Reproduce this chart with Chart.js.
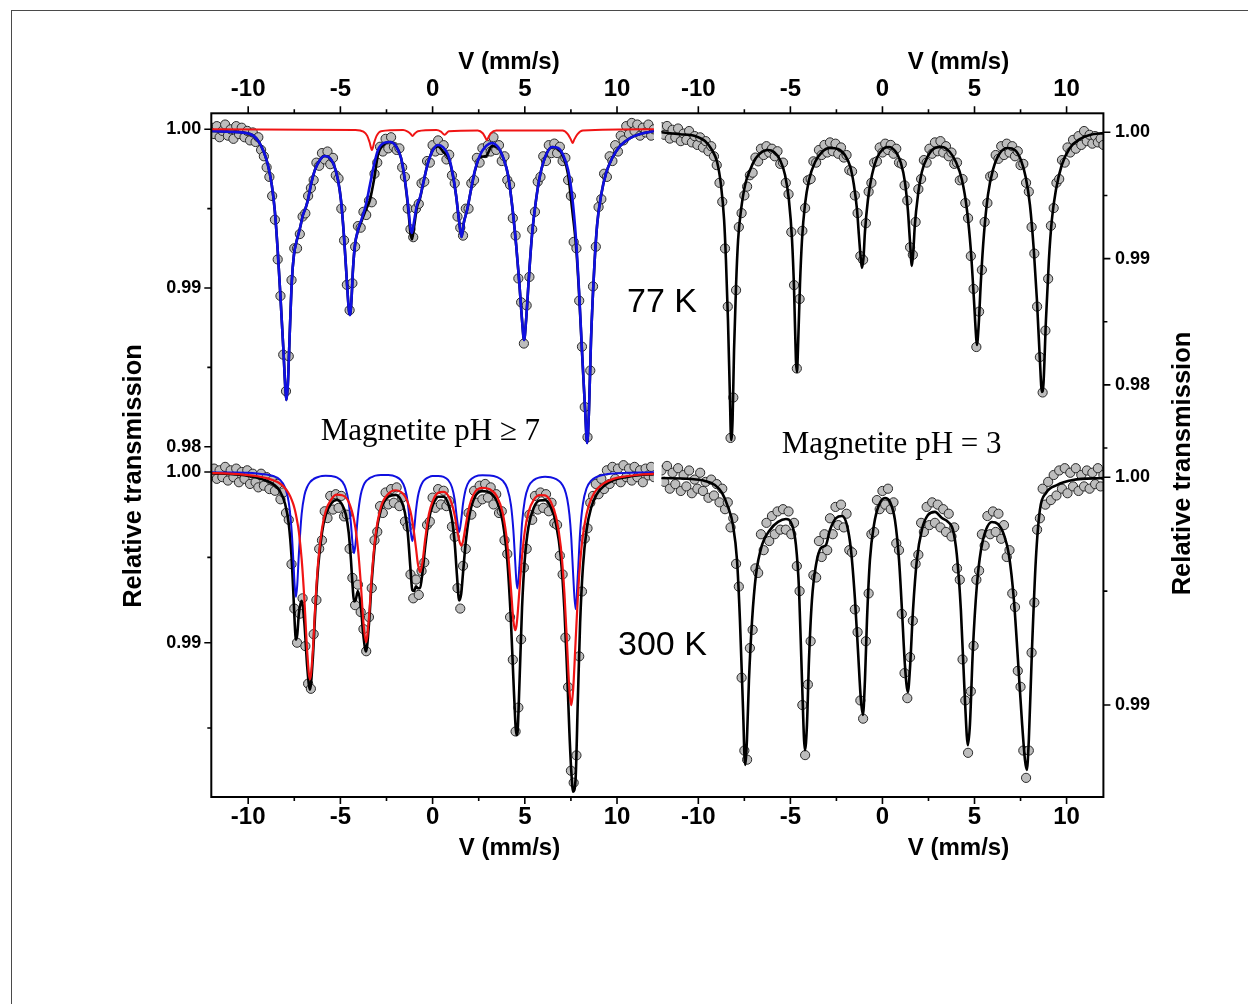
<!DOCTYPE html>
<html>
<head>
<meta charset="utf-8">
<script src="https://cdn.jsdelivr.net/npm/chart.js@4.4.1/dist/chart.umd.min.js"></script>
<style>
  html, body { margin: 0; padding: 0; background: #fff; }
  body { width: 1248px; height: 1004px; position: relative; overflow: hidden; }
  #sheet { position: absolute; left: 11px; top: 10px; width: 1300px; height: 1100px; border: 1.5px solid #4a4a4a; box-sizing: border-box; }
  canvas { position: absolute; left: 0; top: 0; }
</style>
</head>
<body>
<div id="sheet"></div>
<canvas id="tl" width="1248" height="1004"></canvas>
<canvas id="tr" width="1248" height="1004"></canvas>
<canvas id="bl" width="1248" height="1004"></canvas>
<canvas id="br" width="1248" height="1004"></canvas>
<script>
// velocity channels (mm/s), shared by all four spectra
const velocity = [
  -12, -11.85, -11.7, -11.55, -11.4, -11.25, -11.1, -10.95, -10.8, -10.65,
  -10.5, -10.35, -10.2, -10.05, -9.9, -9.75, -9.6, -9.45, -9.3, -9.15,
  -9, -8.85, -8.7, -8.55, -8.4, -8.25, -8.1, -7.95, -7.8, -7.65,
  -7.5, -7.35, -7.2, -7.05, -6.9, -6.75, -6.6, -6.45, -6.3, -6.15,
  -6, -5.85, -5.7, -5.55, -5.4, -5.25, -5.1, -4.95, -4.8, -4.65,
  -4.5, -4.35, -4.2, -4.05, -3.9, -3.75, -3.6, -3.45, -3.3, -3.15,
  -3, -2.85, -2.7, -2.55, -2.4, -2.25, -2.1, -1.95, -1.8, -1.65,
  -1.5, -1.35, -1.2, -1.05, -0.9, -0.75, -0.6, -0.45, -0.3, -0.15,
  0, 0.15, 0.3, 0.45, 0.6, 0.75, 0.9, 1.05, 1.2, 1.35,
  1.5, 1.65, 1.8, 1.95, 2.1, 2.25, 2.4, 2.55, 2.7, 2.85,
  3, 3.15, 3.3, 3.45, 3.6, 3.75, 3.9, 4.05, 4.2, 4.35,
  4.5, 4.65, 4.8, 4.95, 5.1, 5.25, 5.4, 5.55, 5.7, 5.85,
  6, 6.15, 6.3, 6.45, 6.6, 6.75, 6.9, 7.05, 7.2, 7.35,
  7.5, 7.65, 7.8, 7.95, 8.1, 8.25, 8.4, 8.55, 8.7, 8.85,
  9, 9.15, 9.3, 9.45, 9.6, 9.75, 9.9, 10.05, 10.2, 10.35,
  10.5, 10.65, 10.8, 10.95, 11.1, 11.25, 11.4, 11.55, 11.7, 11.85,
  12
];

// measured relative transmission
const trans77pH7 = [
  1.0001, 0.9997, 1.0002, 0.9995, 0.9999, 1.0003, 0.9996, 1.0000, 0.9994, 1.0002,
  0.9997, 1.0001, 0.9995, 0.9999, 0.9993, 0.9998, 0.9992, 0.9995, 0.9987, 0.9983,
  0.9976, 0.9970, 0.9958, 0.9943, 0.9918, 0.9895, 0.9858, 0.9835, 0.9857, 0.9905,
  0.9925, 0.9925, 0.9934, 0.9945, 0.9947, 0.9958, 0.9963, 0.9968, 0.9979, 0.9977,
  0.9985, 0.9981, 0.9986, 0.9978, 0.9982, 0.9971, 0.9969, 0.9950, 0.9930, 0.9902,
  0.9886, 0.9903, 0.9926, 0.9939, 0.9938, 0.9948, 0.9946, 0.9955, 0.9954, 0.9972,
  0.9979, 0.9989, 0.9986, 0.9994, 0.9988, 0.9995, 0.9989, 0.9987, 0.9988, 0.9976,
  0.9970, 0.9950, 0.9937, 0.9932, 0.9950, 0.9953, 0.9966, 0.9967, 0.9980, 0.9979,
  0.9990, 0.9986, 0.9993, 0.9987, 0.9990, 0.9981, 0.9984, 0.9971, 0.9966, 0.9945,
  0.9938, 0.9933, 0.9950, 0.9950, 0.9966, 0.9968, 0.9982, 0.9979, 0.9988, 0.9985,
  0.9990, 0.9986, 0.9995, 0.9987, 0.9990, 0.9980, 0.9983, 0.9968, 0.9965, 0.9944,
  0.9933, 0.9906, 0.9891, 0.9865, 0.9889, 0.9907, 0.9937, 0.9948, 0.9967, 0.9970,
  0.9983, 0.9980, 0.9990, 0.9985, 0.9991, 0.9985, 0.9989, 0.9980, 0.9982, 0.9968,
  0.9958, 0.9929, 0.9925, 0.9892, 0.9863, 0.9825, 0.9806, 0.9848, 0.9901, 0.9926,
  0.9951, 0.9956, 0.9972, 0.9970, 0.9983, 0.9980, 0.9990, 0.9986, 0.9996, 0.9993,
  1.0002, 0.9997, 1.0004, 0.9999, 1.0003, 0.9996, 1.0001, 0.9998, 1.0003, 0.9996,
  1.0000
];
const trans77pH3 = [
  1.0004, 0.9998, 1.0005, 0.9995, 1.0002, 0.9996, 1.0003, 0.9993, 0.9999, 0.9994,
  1.0001, 0.9992, 0.9997, 0.9990, 0.9996, 0.9988, 0.9993, 0.9985, 0.9989, 0.9981,
  0.9974, 0.9960, 0.9945, 0.9908, 0.9862, 0.9758, 0.9790, 0.9875, 0.9925, 0.9936,
  0.9950, 0.9957, 0.9966, 0.9968, 0.9980, 0.9977, 0.9987, 0.9982, 0.9989, 0.9984,
  0.9987, 0.9981, 0.9985, 0.9975, 0.9976, 0.9960, 0.9951, 0.9921, 0.9879, 0.9813,
  0.9868, 0.9922, 0.9940, 0.9962, 0.9963, 0.9977, 0.9976, 0.9986, 0.9982, 0.9990,
  0.9984, 0.9992, 0.9985, 0.9991, 0.9983, 0.9988, 0.9980, 0.9982, 0.9970, 0.9969,
  0.9950, 0.9936, 0.9902, 0.9899, 0.9928, 0.9953, 0.9960, 0.9976, 0.9977, 0.9988,
  0.9984, 0.9991, 0.9986, 0.9990, 0.9983, 0.9987, 0.9976, 0.9975, 0.9958, 0.9946,
  0.9909, 0.9903, 0.9929, 0.9955, 0.9963, 0.9978, 0.9976, 0.9987, 0.9983, 0.9992,
  0.9985, 0.9993, 0.9984, 0.9989, 0.9981, 0.9984, 0.9975, 0.9976, 0.9962, 0.9963,
  0.9944, 0.9932, 0.9902, 0.9876, 0.9830, 0.9858, 0.9891, 0.9929, 0.9944, 0.9965,
  0.9966, 0.9982, 0.9979, 0.9989, 0.9982, 0.9991, 0.9984, 0.9989, 0.9981, 0.9985,
  0.9974, 0.9975, 0.9960, 0.9953, 0.9925, 0.9904, 0.9862, 0.9822, 0.9794, 0.9843,
  0.9884, 0.9926, 0.9940, 0.9960, 0.9963, 0.9978, 0.9976, 0.9988, 0.9984, 0.9994,
  0.9987, 0.9997, 0.9990, 1.0001, 0.9993, 0.9998, 0.9991, 0.9997, 0.9992, 0.9995,
  0.9990
];
const trans300pH7 = [
  0.9998, 1.0002, 0.9996, 1.0001, 0.9997, 1.0003, 0.9995, 1.0001, 0.9997, 1.0002,
  0.9994, 1.0000, 0.9996, 1.0001, 0.9993, 0.9999, 0.9994, 0.9991, 0.9999, 0.9992,
  0.9997, 0.9990, 0.9995, 0.9989, 0.9993, 0.9984, 0.9988, 0.9976, 0.9972, 0.9946,
  0.9920, 0.9900, 0.9917, 0.9926, 0.9898, 0.9876, 0.9873, 0.9905, 0.9925, 0.9955,
  0.9960, 0.9977, 0.9973, 0.9986, 0.9978, 0.9987, 0.9979, 0.9986, 0.9974, 0.9975,
  0.9955, 0.9938, 0.9922, 0.9934, 0.9918, 0.9908, 0.9895, 0.9915, 0.9932, 0.9960,
  0.9965, 0.9980, 0.9976, 0.9988, 0.9981, 0.9990, 0.9982, 0.9991, 0.9980, 0.9985,
  0.9971, 0.9968, 0.9940, 0.9926, 0.9937, 0.9928, 0.9942, 0.9947, 0.9969, 0.9971,
  0.9985, 0.9979, 0.9990, 0.9981, 0.9989, 0.9980, 0.9983, 0.9968, 0.9962, 0.9932,
  0.9920, 0.9945, 0.9955, 0.9976, 0.9975, 0.9989, 0.9982, 0.9992, 0.9984, 0.9993,
  0.9985, 0.9991, 0.9981, 0.9987, 0.9976, 0.9977, 0.9960, 0.9952, 0.9915, 0.9890,
  0.9848, 0.9862, 0.9902, 0.9944, 0.9955, 0.9975, 0.9972, 0.9986, 0.9978, 0.9988,
  0.9979, 0.9987, 0.9977, 0.9982, 0.9970, 0.9969, 0.9951, 0.9940, 0.9903, 0.9874,
  0.9825, 0.9818, 0.9834, 0.9892, 0.9930, 0.9961, 0.9967, 0.9982, 0.9986, 0.9993,
  0.9987, 0.9996, 0.9990, 1.0001, 0.9993, 1.0003, 0.9996, 1.0002, 0.9994, 1.0004,
  0.9997, 1.0002, 0.9995, 1.0003, 0.9997, 1.0001, 0.9994, 1.0002, 0.9998, 1.0003,
  0.9997
];
const trans300pH3 = [
  1.0003, 0.9998, 1.0005, 0.9995, 1.0002, 0.9997, 1.0004, 0.9994, 1.0001, 0.9996,
  1.0003, 0.9993, 0.9999, 0.9995, 1.0002, 0.9994, 0.9998, 0.9991, 0.9999, 0.9992,
  0.9997, 0.9989, 0.9995, 0.9986, 0.9989, 0.9978, 0.9982, 0.9962, 0.9952, 0.9912,
  0.9880, 0.9876, 0.9925, 0.9933, 0.9960, 0.9958, 0.9975, 0.9968, 0.9980, 0.9972,
  0.9983, 0.9975, 0.9985, 0.9977, 0.9986, 0.9977, 0.9985, 0.9975, 0.9980, 0.9961,
  0.9950, 0.9900, 0.9878, 0.9909, 0.9928, 0.9957, 0.9956, 0.9972, 0.9965, 0.9975,
  0.9968, 0.9982, 0.9975, 0.9987, 0.9979, 0.9988, 0.9978, 0.9984, 0.9968, 0.9967,
  0.9942, 0.9932, 0.9902, 0.9894, 0.9928, 0.9949, 0.9975, 0.9976, 0.9990, 0.9986,
  0.9994, 0.9988, 0.9995, 0.9986, 0.9989, 0.9971, 0.9968, 0.9940, 0.9914, 0.9903,
  0.9921, 0.9937, 0.9962, 0.9966, 0.9980, 0.9976, 0.9987, 0.9979, 0.9989, 0.9980,
  0.9988, 0.9978, 0.9986, 0.9976, 0.9984, 0.9974, 0.9978, 0.9960, 0.9955, 0.9920,
  0.9902, 0.9879, 0.9906, 0.9926, 0.9955, 0.9959, 0.9975, 0.9970, 0.9983, 0.9975,
  0.9985, 0.9976, 0.9984, 0.9973, 0.9979, 0.9965, 0.9968, 0.9949, 0.9943, 0.9915,
  0.9908, 0.9880, 0.9868, 0.9880, 0.9923, 0.9945, 0.9977, 0.9982, 0.9995, 0.9988,
  0.9998, 0.9990, 1.0001, 0.9992, 1.0003, 0.9995, 1.0004, 0.9993, 1.0002, 0.9996,
  1.0004, 0.9994, 1.0001, 0.9996, 1.0003, 0.9995, 1.0002, 0.9997, 1.0004, 0.9996,
  1.0001
];

// fitted curves, 77 K, pH >= 7
const fitV77pH7 = [
  -12, -11, -9.9, -9.47, -9.15, -8.93, -8.72, -8.56, -8.4, -8.24, -8.09, -7.98, -7.93, -7.85,
  -7.74, -7.63, -7.52, -7.36, -7.19, -7.03, -6.87, -6.76, -6.6, -6.38, -6.11, -5.84, -5.57,
  -5.35, -5.13, -4.97, -4.81, -4.67, -4.54, -4.48, -4.4, -4.32, -4.21, -4.05, -3.83, -3.62,
  -3.4, -3.18, -2.96, -2.64, -2.31, -1.99, -1.71, -1.5, -1.33, -1.2, -1.12, -1.01, -0.85,
  -0.68, -0.47, -0.25, 0.02, 0.29, 0.56, 0.84, 1.05, 1.27, 1.43, 1.57, 1.7, 1.87, 2.08, 2.3,
  2.57, 2.9, 3.22, 3.55, 3.87, 4.09, 4.31, 4.53, 4.69, 4.85, 4.96, 5.07, 5.23, 5.39, 5.61,
  5.83, 6.15, 6.48, 6.8, 7.08, 7.35, 7.56, 7.78, 7.94, 8.1, 8.27, 8.38, 8.48, 8.59, 8.76,
  8.92, 9.14, 9.41, 9.74, 10.17, 10.71, 11.25, 12
];
const fitBlue77pH7 = [
  0.99990, 0.99985, 0.99970, 0.99930, 0.99857, 0.99775, 0.99649, 0.99491, 0.99239, 0.98924,
  0.98609, 0.98357, 0.98294, 0.98389, 0.98735, 0.99050, 0.99208, 0.99302, 0.99378, 0.99460,
  0.99510, 0.99555, 0.99649, 0.99744, 0.99807, 0.99832, 0.99819, 0.99775, 0.99681, 0.99555,
  0.99334, 0.99082, 0.98861, 0.98830, 0.98924, 0.99113, 0.99271, 0.99365, 0.99441, 0.99523,
  0.99649, 0.99775, 0.99870, 0.99914, 0.99920, 0.99895, 0.99819, 0.99681, 0.99523, 0.99378,
  0.99347, 0.99416, 0.99523, 0.99573, 0.99681, 0.99788, 0.99870, 0.99901, 0.99888, 0.99838,
  0.99744, 0.99586, 0.99428, 0.99321, 0.99416, 0.99491, 0.99618, 0.99744, 0.99838, 0.99895,
  0.99914, 0.99888, 0.99807, 0.99712, 0.99523, 0.99271, 0.99050, 0.98798, 0.98672, 0.98798,
  0.99082, 0.99334, 0.99555, 0.99712, 0.99838, 0.99888, 0.99882, 0.99838, 0.99744, 0.99586,
  0.99302, 0.98987, 0.98609, 0.98231, 0.98023, 0.98231, 0.98672, 0.99113, 0.99397, 0.99586,
  0.99725, 0.99819, 0.99895, 0.99945, 0.99970, 0.99989
];
const fitTotal77pH7 = [
  0.99990, 0.99985, 0.99970, 0.99930, 0.99857, 0.99775, 0.99649, 0.99491, 0.99239, 0.98924,
  0.98609, 0.98357, 0.98294, 0.98389, 0.98735, 0.99050, 0.99208, 0.99302, 0.99378, 0.99460,
  0.99510, 0.99555, 0.99649, 0.99744, 0.99807, 0.99832, 0.99819, 0.99775, 0.99681, 0.99555,
  0.99334, 0.99082, 0.98861, 0.98830, 0.98924, 0.99113, 0.99271, 0.99358, 0.99428, 0.99493,
  0.99554, 0.99680, 0.99840, 0.99905, 0.99920, 0.99895, 0.99819, 0.99674, 0.99508, 0.99347,
  0.99306, 0.99381, 0.99508, 0.99566, 0.99681, 0.99788, 0.99870, 0.99894, 0.99860, 0.99822,
  0.99738, 0.99586, 0.99428, 0.99321, 0.99416, 0.99491, 0.99618, 0.99739, 0.99825, 0.99831,
  0.99895, 0.99883, 0.99807, 0.99712, 0.99523, 0.99271, 0.99050, 0.98798, 0.98672, 0.98798,
  0.99082, 0.99334, 0.99555, 0.99712, 0.99838, 0.99888, 0.99878, 0.99828, 0.99713, 0.99503,
  0.99262, 0.98969, 0.98600, 0.98231, 0.98023, 0.98231, 0.98672, 0.99113, 0.99397, 0.99586,
  0.99725, 0.99819, 0.99895, 0.99945, 0.99970, 0.99989
];
const fitRedV77pH7 = [
  -12, -4.2, -3.75, -3.55, -3.42, -3.29, -3.16, -3.03, -2.8, -1.6, -1.35, -1.2, -1.09, -0.98,
  -0.8, 0.2, 0.45, 0.57, 0.65, 0.73, 0.88, 2.45, 2.72, 2.85, 2.94, 3.03, 3.16, 3.45, 7.05,
  7.33, 7.5, 7.59, 7.68, 7.86, 8.15, 12
];
const fitRed77pH7 = [
  1.0000, 0.99996, 0.99985, 0.99960, 0.99920, 0.99870, 0.99920, 0.99960, 0.99988, 0.99995,
  0.99985, 0.99972, 0.99958, 0.99972, 0.99988, 0.99995, 0.99985, 0.99972, 0.99965, 0.99972,
  0.99988, 0.99993, 0.99975, 0.99950, 0.99933, 0.99950, 0.99975, 0.99992, 0.99993, 0.99970,
  0.99935, 0.99914, 0.99935, 0.99970, 0.99993, 1.0000
];

// fitted curve, 77 K, pH = 3
const fitV77pH3 = [
  -12, -11, -10.18, -9.64, -9.26, -8.98, -8.77, -8.6, -8.5, -8.39, -8.28, -8.22, -8.14, -8.06,
  -7.95, -7.84, -7.68, -7.46, -7.19, -6.87, -6.54, -6.22, -5.89, -5.56, -5.29, -5.08, -4.91,
  -4.8, -4.7, -4.64, -4.59, -4.48, -4.37, -4.21, -3.99, -3.66, -3.28, -2.85, -2.42, -2.04,
  -1.76, -1.55, -1.38, -1.28, -1.17, -1.11, -1.03, -0.95, -0.79, -0.57, -0.3, 0.03, 0.35,
  0.73, 1, 1.22, 1.38, 1.49, 1.6, 1.68, 1.76, 1.93, 2.14, 2.47, 2.85, 3.23, 3.66, 3.99, 4.32,
  4.59, 4.8, 4.97, 5.08, 5.13, 5.21, 5.35, 5.51, 5.73, 6, 6.38, 6.81, 7.19, 7.52, 7.79, 8.01,
  8.22, 8.39, 8.55, 8.66, 8.74, 8.88, 9.04, 9.2, 9.42, 9.74, 10.18, 10.72, 11.26, 12
];
const fitTotal77pH3 = [
  1.00000, 0.99985, 0.99971, 0.99931, 0.99860, 0.99765, 0.99583, 0.99306, 0.98989, 0.98514,
  0.97880, 0.97564, 0.97722, 0.98277, 0.98791, 0.99147, 0.99385, 0.99583, 0.99702, 0.99796,
  0.99844, 0.99860, 0.99844, 0.99781, 0.99662, 0.99464, 0.99147, 0.98752, 0.98198, 0.98102,
  0.98277, 0.98791, 0.99147, 0.99425, 0.99622, 0.99765, 0.99844, 0.99876, 0.99868, 0.99820,
  0.99733, 0.99583, 0.99385, 0.99187, 0.98989, 0.98926, 0.99005, 0.99211, 0.99464, 0.99662,
  0.99796, 0.99868, 0.99884, 0.99844, 0.99757, 0.99607, 0.99385, 0.99147, 0.98942, 0.99068,
  0.99266, 0.99504, 0.99686, 0.99812, 0.99876, 0.99884, 0.99844, 0.99765, 0.99622, 0.99385,
  0.99068, 0.98672, 0.98395, 0.98316, 0.98435, 0.98831, 0.99187, 0.99504, 0.99702, 0.99836,
  0.99876, 0.99860, 0.99781, 0.99638, 0.99425, 0.99068, 0.98672, 0.98198, 0.97944, 0.97999,
  0.98514, 0.98989, 0.99306, 0.99543, 0.99741, 0.99876, 0.99947, 0.99979, 0.99994
];

// fitted curves, 300 K, pH >= 7 (total, blue sextet, red sextet)
const fitV300pH7 = [
  -12, -11, -10, -9.5, -9, -8.6, -8.3, -8, -7.8, -7.65, -7.55, -7.48, -7.41, -7.34, -7.25,
  -7.1, -6.95, -6.8, -6.65, -6.5, -6.35, -6.2, -6, -5.8, -5.5, -5.2, -4.9, -4.7, -4.55, -4.43,
  -4.33, -4.26, -4.18, -4.05, -3.9, -3.75, -3.61, -3.45, -3.3, -3.1, -2.8, -2.4, -2, -1.7,
  -1.5, -1.35, -1.2, -1.1, -1, -0.9, -0.8, -0.68, -0.55, -0.4, -0.2, 0, 0.3, 0.6, 0.85, 1.05,
  1.2, 1.32, 1.44, 1.55, 1.65, 1.8, 2, 2.3, 2.7, 3.1, 3.5, 3.8, 4.05, 4.25, 4.38, 4.48, 4.54,
  4.6, 4.7, 4.85, 5, 5.2, 5.5, 5.8, 6.1, 6.4, 6.7, 6.95, 7.15, 7.3, 7.42, 7.52, 7.62, 7.75,
  7.88, 8, 8.15, 8.35, 8.6, 8.9, 9.3, 9.8, 10.5, 11.2, 12
];
const fitBlue300pH7 = [
  0.99998, 0.99997, 0.99995, 0.99991, 0.99985, 0.99975, 0.99957, 0.99909, 0.99822, 0.99665,
  0.99480, 0.99337, 0.99268, 0.99337, 0.99523, 0.99755, 0.99864, 0.99913, 0.99940, 0.99955,
  0.99965, 0.99971, 0.99976, 0.99978, 0.99976, 0.99969, 0.99944, 0.99899, 0.99821, 0.99699,
  0.99567, 0.99524, 0.99579, 0.99748, 0.99865, 0.99920, 0.99946, 0.99961, 0.99970, 0.99979,
  0.99983, 0.99982, 0.99973, 0.99950, 0.99904, 0.99823, 0.99665, 0.99596, 0.99664, 0.99777,
  0.99855, 0.99907, 0.99939, 0.99957, 0.99970, 0.99976, 0.99977, 0.99971, 0.99952, 0.99911,
  0.99837, 0.99727, 0.99647, 0.99717, 0.99814, 0.99901, 0.99948, 0.99973, 0.99981, 0.99980,
  0.99970, 0.99949, 0.99904, 0.99806, 0.99658, 0.99474, 0.99365, 0.99318, 0.99434, 0.99700,
  0.99837, 0.99914, 0.99954, 0.99968, 0.99972, 0.99969, 0.99958, 0.99938, 0.99901, 0.99842,
  0.99750, 0.99614, 0.99404, 0.99197, 0.99405, 0.99650, 0.99813, 0.99905, 0.99949, 0.99971,
  0.99984, 0.99991, 0.99995, 0.99997, 0.99998
];
const fitRed300pH7 = [
  0.99994, 0.99991, 0.99982, 0.99975, 0.99964, 0.99950, 0.99934, 0.99905, 0.99874, 0.99840,
  0.99810, 0.99783, 0.99750, 0.99710, 0.99648, 0.99490, 0.99249, 0.98948, 0.98785, 0.98945,
  0.99243, 0.99480, 0.99667, 0.99770, 0.99839, 0.99867, 0.99864, 0.99850, 0.99824, 0.99790,
  0.99752, 0.99717, 0.99668, 0.99554, 0.99357, 0.99118, 0.99003, 0.99149, 0.99390, 0.99626,
  0.99796, 0.99873, 0.99893, 0.99882, 0.99858, 0.99824, 0.99768, 0.99713, 0.99639, 0.99554,
  0.99464, 0.99413, 0.99471, 0.99608, 0.99754, 0.99828, 0.99878, 0.99884, 0.99861, 0.99812,
  0.99745, 0.99669, 0.99600, 0.99569, 0.99595, 0.99690, 0.99802, 0.99883, 0.99907, 0.99899,
  0.99855, 0.99761, 0.99579, 0.99314, 0.99131, 0.99073, 0.99094, 0.99153, 0.99296, 0.99505,
  0.99652, 0.99765, 0.99840, 0.99865, 0.99863, 0.99827, 0.99735, 0.99564, 0.99288, 0.98971,
  0.98721, 0.98634, 0.98723, 0.98998, 0.99276, 0.99468, 0.99629, 0.99756, 0.99843, 0.99898,
  0.99935, 0.99960, 0.99975, 0.99984, 0.99989
];
const fitTotal300pH7 = [
  0.99992, 0.99988, 0.99977, 0.99966, 0.99949, 0.99925, 0.99891, 0.99814, 0.99696, 0.99505,
  0.99290, 0.99120, 0.99018, 0.99047, 0.99171, 0.99245, 0.99113, 0.98861, 0.98725, 0.98900,
  0.99208, 0.99451, 0.99643, 0.99748, 0.99815, 0.99836, 0.99808, 0.99749, 0.99645, 0.99489,
  0.99319, 0.99241, 0.99247, 0.99302, 0.99222, 0.99038, 0.98949, 0.99110, 0.99360, 0.99605,
  0.99779, 0.99855, 0.99866, 0.99832, 0.99762, 0.99647, 0.99433, 0.99309, 0.99303, 0.99331,
  0.99319, 0.99320, 0.99410, 0.99565, 0.99724, 0.99804, 0.99855, 0.99855, 0.99813, 0.99723,
  0.99582, 0.99396, 0.99247, 0.99286, 0.99409, 0.99591, 0.99750, 0.99856, 0.99888, 0.99879,
  0.99825, 0.99710, 0.99483, 0.99120, 0.98789, 0.98547, 0.98459, 0.98471, 0.98730, 0.99205,
  0.99489, 0.99679, 0.99794, 0.99833, 0.99835, 0.99796, 0.99693, 0.99502, 0.99189, 0.98813,
  0.98471, 0.98248, 0.98127, 0.98195, 0.98681, 0.99118, 0.99442, 0.99661, 0.99792, 0.99869,
  0.99919, 0.99951, 0.99970, 0.99981, 0.99987
];

// fitted curve, 300 K, pH = 3
const fitV300pH3 = [
  -12, -10.45, -9.64, -9.1, -8.71, -8.39, -8.12, -7.9, -7.74, -7.57, -7.46, -7.36, -7.25,
  -7.08, -6.87, -6.54, -6.11, -5.67, -5.24, -4.91, -4.7, -4.53, -4.37, -4.21, -4.1, -3.99,
  -3.83, -3.61, -3.34, -3.07, -2.85, -2.52, -2.2, -1.93, -1.71, -1.49, -1.33, -1.17, -1.06,
  -0.95, -0.84, -0.68, -0.46, -0.19, 0.14, 0.41, 0.68, 0.9, 1.06, 1.22, 1.38, 1.49, 1.66,
  1.87, 2.14, 2.47, 2.85, 3.23, 3.56, 3.83, 4.04, 4.26, 4.48, 4.64, 4.75, 4.91, 5.13, 5.35,
  5.62, 5.94, 6.27, 6.6, 6.87, 7.14, 7.36, 7.57, 7.74, 7.84, 7.95, 8.12, 8.33, 8.55, 8.88,
  9.47, 10.34, 12
];
const fitTotal300pH3 = [
  0.99997, 0.99993, 0.99984, 0.99966, 0.99931, 0.99870, 0.99791, 0.99637, 0.99373, 0.98978,
  0.98737, 0.98847, 0.99110, 0.99373, 0.99571, 0.99703, 0.99769, 0.99804, 0.99817, 0.99791,
  0.99703, 0.99505, 0.99110, 0.98802, 0.98913, 0.99198, 0.99461, 0.99615, 0.99690, 0.99703,
  0.99769, 0.99821, 0.99830, 0.99791, 0.99681, 0.99461, 0.99241, 0.99022, 0.98956, 0.99110,
  0.99373, 0.99637, 0.99791, 0.99878, 0.99909, 0.99892, 0.99812, 0.99637, 0.99417, 0.99176,
  0.99057, 0.99154, 0.99417, 0.99637, 0.99769, 0.99834, 0.99848, 0.99821, 0.99804, 0.99769,
  0.99659, 0.99417, 0.99022, 0.98824, 0.98913, 0.99241, 0.99527, 0.99681, 0.99769, 0.99804,
  0.99795, 0.99747, 0.99659, 0.99461, 0.99198, 0.98935, 0.98759, 0.98715, 0.98847, 0.99241,
  0.99637, 0.99856, 0.99931, 0.99966, 0.99988, 0.99997
];

// axis ticks
const xTicks = [-10, -5, 0, 5, 10];
const xMinorTicks = [-7.5, -2.5, 2.5, 7.5];

const FONT = "'Liberation Sans', Arial, Helvetica, sans-serif";
const SERIF = "'Liberation Serif', 'Times New Roman', serif";
const AX = 80; // room kept for each axis

const pts = (xs, ys) => xs.map((v, i) => ({ x: v, y: ys[i] }));

const dataSet = (ys) => ({
  data: pts(velocity, ys), showLine: false, order: 5,
  pointRadius: 4.6, pointHoverRadius: 4.6, pointBorderWidth: 1,
  pointBackgroundColor: '#bdbdbd', pointBorderColor: '#2a2a2a'
});
const fitSet = (xs, ys, color, width, order) => ({
  data: pts(xs, ys), showLine: true, order: order, fill: false,
  borderColor: color, borderWidth: width, pointRadius: 0, pointHoverRadius: 0,
  cubicInterpolationMode: 'monotone', borderJoinStyle: 'round', borderCapStyle: 'round'
});

// tick marks drawn outward, minor ones shorter
const tickMarks = {
  id: 'tickMarks',
  afterDraw(chart, args, o) {
    const { ctx, chartArea: a } = chart;
    const x = chart.scales.x, y = chart.scales.y;
    ctx.save();
    ctx.strokeStyle = '#000';
    ctx.lineWidth = 1.6;
    ctx.beginPath();
    const xe = o.xTop ? a.top : a.bottom, xs = o.xTop ? -1 : 1;
    xTicks.forEach(v => { const p = x.getPixelForValue(v); ctx.moveTo(p, xe); ctx.lineTo(p, xe + xs * 7); });
    xMinorTicks.forEach(v => { const p = x.getPixelForValue(v); ctx.moveTo(p, xe); ctx.lineTo(p, xe + xs * 4); });
    const ye = o.yLeft ? a.left : a.right, ys = o.yLeft ? -1 : 1;
    o.yMajor.forEach(v => { const p = y.getPixelForValue(v); ctx.moveTo(ye, p); ctx.lineTo(ye + ys * 7, p); });
    o.yMinor.forEach(v => { const p = y.getPixelForValue(v); ctx.moveTo(ye, p); ctx.lineTo(ye + ys * 4, p); });
    ctx.stroke();
    ctx.restore();
  }
};

const BOX = {
  tl: { l: 211.3, r: 653.9, t: 113.3, b: 797 },
  tr: { l: 661.5, r: 1103.4, t: 113.3, b: 797 }
};

// frame and annotation texts
const decor = {
  id: 'decor',
  afterDraw(chart) {
    const ctx = chart.ctx;
    ctx.save();
    ctx.strokeStyle = '#000';
    ctx.lineWidth = 2;
    ctx.strokeRect(BOX.tl.l, BOX.tl.t, BOX.tr.r - BOX.tl.l, BOX.tl.b - BOX.tl.t);
    ctx.fillStyle = '#000';
    ctx.textBaseline = 'alphabetic';
    ctx.textAlign = 'center';
    ctx.font = 'bold 24px ' + FONT;
    ctx.fillText('V (mm/s)', 509, 68.5);
    ctx.fillText('V (mm/s)', 958.5, 68.5);
    ctx.fillText('V (mm/s)', 509.5, 855);
    ctx.fillText('V (mm/s)', 958.5, 855);
    ctx.font = 'bold 25.5px ' + FONT;
    [[141, 476], [1190, 463.5]].forEach(([px, py]) => {
      ctx.save();
      ctx.translate(px, py);
      ctx.rotate(-Math.PI / 2);
      ctx.fillText('Relative transmission', 0, 0);
      ctx.restore();
    });
    ctx.textAlign = 'left';
    ctx.font = '34px ' + FONT;
    ctx.fillText('77 K', 627, 312);
    ctx.fillText('300 K', 618, 655);
    ctx.font = '31px ' + SERIF;
    ctx.fillText('Magnetite pH \u2265 7', 320.7, 440);
    ctx.fillText('Magnetite pH = 3', 781.7, 453);
    ctx.restore();
  }
};

function panel(id, cfg) {
  const W = 1248, H = 1004;
  const xTop = cfg.xPos === 'top', yLeft = cfg.yPos === 'left';
  const b = cfg.box;
  const padding = {
    left: b.l - (yLeft ? AX : 0),
    right: W - b.r - (yLeft ? 0 : AX),
    top: b.t - (xTop ? AX : 0),
    bottom: H - b.b - (xTop ? 0 : AX)
  };
  return new Chart(document.getElementById(id), {
    type: 'scatter',
    data: { datasets: cfg.datasets },
    options: {
      responsive: false,
      animation: false,
      events: [],
      layout: { padding: padding },
      plugins: {
        legend: { display: false },
        tooltip: { enabled: false },
        tickMarks: { xTop: xTop, yLeft: yLeft, yMajor: cfg.yMajor, yMinor: cfg.yMinor }
      },
      scales: {
        x: {
          type: 'linear', position: cfg.xPos, min: -12, max: 12,
          afterFit: s => { s.height = AX; },
          afterBuildTicks: s => { s.ticks = xTicks.map(v => ({ value: v })); },
          grid: { display: false, drawTicks: false },
          border: { display: false },
          ticks: {
            autoSkip: false, maxRotation: 0, color: '#000',
            padding: xTop ? 9.4 : 6,
            font: { family: FONT, size: 24, weight: 'bold' },
            callback: v => String(v)
          }
        },
        y: {
          type: 'linear', position: cfg.yPos, min: cfg.yMin, max: cfg.yMax,
          afterFit: s => { s.width = AX; },
          afterBuildTicks: s => { s.ticks = cfg.yMajor.map(v => ({ value: v })); },
          grid: { display: false, drawTicks: false },
          border: { display: false },
          ticks: {
            autoSkip: false, color: '#000',
            padding: yLeft ? 10 : 11.6,
            font: { family: FONT, size: 18, weight: 'bold' },
            callback: v => v.toFixed(2)
          }
        }
      }
    },
    plugins: cfg.decor ? [tickMarks, decor] : [tickMarks]
  });
}

panel('tl', {
  box: BOX.tl, xPos: 'top', yPos: 'left', yMin: 0.957927, yMax: 1.001008,
  yMajor: [0.98, 0.99, 1.00], yMinor: [0.985, 0.995],
  datasets: [
    fitSet(fitRedV77pH7, fitRed77pH7, '#f01414', 2, 0),
    fitSet(fitV77pH7, fitBlue77pH7, '#1010e0', 2.6, 1),
    fitSet(fitV77pH7, fitTotal77pH7, '#000', 2.6, 2),
    dataSet(trans77pH7)
  ]
});
panel('tr', {
  box: BOX.tr, xPos: 'top', yPos: 'right', yMin: 0.947371, yMax: 1.001504,
  yMajor: [0.98, 0.99, 1.00], yMinor: [0.975, 0.985, 0.995],
  datasets: [
    fitSet(fitV77pH3, fitTotal77pH3, '#000', 2.6, 0),
    dataSet(trans77pH3)
  ]
});
panel('bl', {
  box: { l: BOX.tl.l, r: BOX.tl.r, t: BOX.tl.t, b: BOX.tl.b }, xPos: 'bottom', yPos: 'left',
  yMin: 0.980961, yMax: 1.021014,
  yMajor: [0.99, 1.00], yMinor: [0.985, 0.995],
  datasets: [
    fitSet(fitV300pH7, fitRed300pH7, '#f01414', 2.2, 0),
    fitSet(fitV300pH7, fitBlue300pH7, '#1010e0', 2, 1),
    fitSet(fitV300pH7, fitTotal300pH7, '#000', 2.6, 2),
    dataSet(trans300pH7)
  ]
});
panel('br', {
  box: { l: BOX.tr.l, r: BOX.tr.r, t: BOX.tr.t, b: BOX.tr.b }, xPos: 'bottom', yPos: 'right',
  yMin: 0.985960, yMax: 1.015986,
  yMajor: [0.99, 1.00], yMinor: [0.995],
  decor: true,
  datasets: [
    fitSet(fitV300pH3, fitTotal300pH3, '#000', 2.6, 0),
    dataSet(trans300pH3)
  ]
});
</script>
</body>
</html>
